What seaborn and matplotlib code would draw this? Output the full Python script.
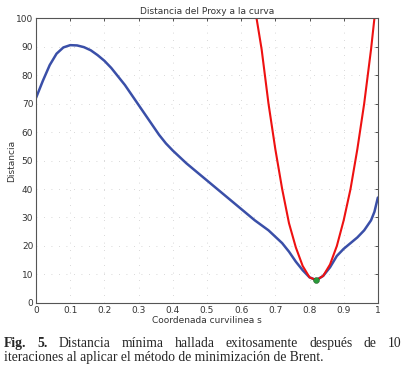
import numpy as np
import pandas as pd
import matplotlib
matplotlib.use("Agg")
import matplotlib.pyplot as plt
import seaborn as sns

# curva azul: distancia del proxy a la curva
s_blue = [0, 0.02, 0.04, 0.06, 0.08, 0.10, 0.12, 0.14, 0.16, 0.18, 0.20, 0.22, 0.24,
          0.26, 0.28, 0.30, 0.32, 0.34, 0.36, 0.38, 0.40, 0.44, 0.48, 0.52, 0.56,
          0.60, 0.64, 0.68, 0.72, 0.74, 0.76, 0.78, 0.80, 0.82, 0.84, 0.86, 0.88,
          0.90, 0.92, 0.94, 0.96, 0.98, 0.99, 1.0]
d_blue = [72, 78, 83.5, 87.5, 89.7, 90.5, 90.4, 89.8, 88.7, 87, 85, 82.5, 79.5,
          76.5, 73, 69.5, 66, 62.5, 59, 56, 53.5, 49, 45, 41, 37,
          33, 29, 25.5, 21, 18, 14.5, 11.5, 9, 8, 9.5, 12.5, 16.5,
          19, 21, 23, 25.5, 29, 32, 37]

# parabola de Brent (roja)
s_red = [0.645, 0.66, 0.68, 0.70, 0.72, 0.74, 0.76, 0.78, 0.80, 0.82, 0.84,
         0.86, 0.88, 0.90, 0.92, 0.94, 0.96, 0.98, 0.99]
d_red = [100, 89, 70, 54, 40, 28, 19.5, 13, 9, 8, 9.5,
         13.5, 20, 29, 40, 54, 70, 89, 100]

s_min = [0.82]
d_min = [8]

sns.set_style("white")
plt.rcParams["font.family"] = ["DejaVu Sans"]

fig = plt.figure(figsize=(4.05, 3.69), dpi=100)
ax = fig.add_axes([0.089, 0.179, 0.844, 0.772])

sns.lineplot(x=s_blue, y=d_blue, ax=ax, sort=False, estimator=None,
             color="#3a4fa8", linewidth=1.8)
sns.lineplot(x=s_red, y=d_red, ax=ax, sort=False, estimator=None,
             color="#ee1111", linewidth=1.5)
sns.scatterplot(x=s_min, y=d_min, ax=ax, color="#2a9a3a", edgecolor="#225522",
                s=18, zorder=5)

ax.set_xlim(0, 1)
ax.set_ylim(0, 100)
ax.set_xticks(np.arange(0, 1.01, 0.1))
ax.set_xticklabels(["0", "0.1", "0.2", "0.3", "0.4", "0.5", "0.6", "0.7", "0.8", "0.9", "1"])
ax.set_yticks(range(0, 101, 10))
ax.tick_params(direction="in", top=True, right=True, labelsize=6.5, length=2.5,
               width=0.6, pad=2, colors="#333333")
ax.grid(True, linestyle=(0, (1, 8)), linewidth=0.6, color="#cccccc")
for sp in ax.spines.values():
    sp.set_color("#555555")
    sp.set_linewidth(0.8)

ax.set_title("Distancia del Proxy a la curva", fontsize=6.5, pad=3, color="#333333")
ax.set_xlabel("Coordenada curvilinea s", fontsize=6.5, labelpad=1, color="#333333")
ax.set_ylabel("Distancia", fontsize=6.5, labelpad=0, color="#333333")

# pie de figura justificado
serif = ["Liberation Serif", "DejaVu Serif"]
words = [("Fig.", "bold"), ("5.", "bold"), ("Distancia", "normal"), ("mínima", "normal"),
         ("hallada", "normal"), ("exitosamente", "normal"), ("después", "normal"),
         ("de", "normal"), ("10", "normal")]
fs = 9.85
renderer = fig.canvas.get_renderer()
x0, x1 = 4 / 405, 401 / 405
y1 = 1 - 347 / 369
texts = [fig.text(0, y1, w, fontsize=fs, family=serif, weight=wt, va="baseline")
         for w, wt in words]
widths = [t.get_window_extent(renderer).width / fig.bbox.width for t in texts]
gap = (x1 - x0 - sum(widths)) / (len(words) - 1)
x = x0
for t, w in zip(texts, widths):
    t.set_x(x)
    x += w + gap
fig.text(x0, 1 - 361 / 369, "iteraciones al aplicar el método de minimización de Brent.",
         fontsize=fs, family=serif, va="baseline")

fig.savefig("out.png", dpi=100)
